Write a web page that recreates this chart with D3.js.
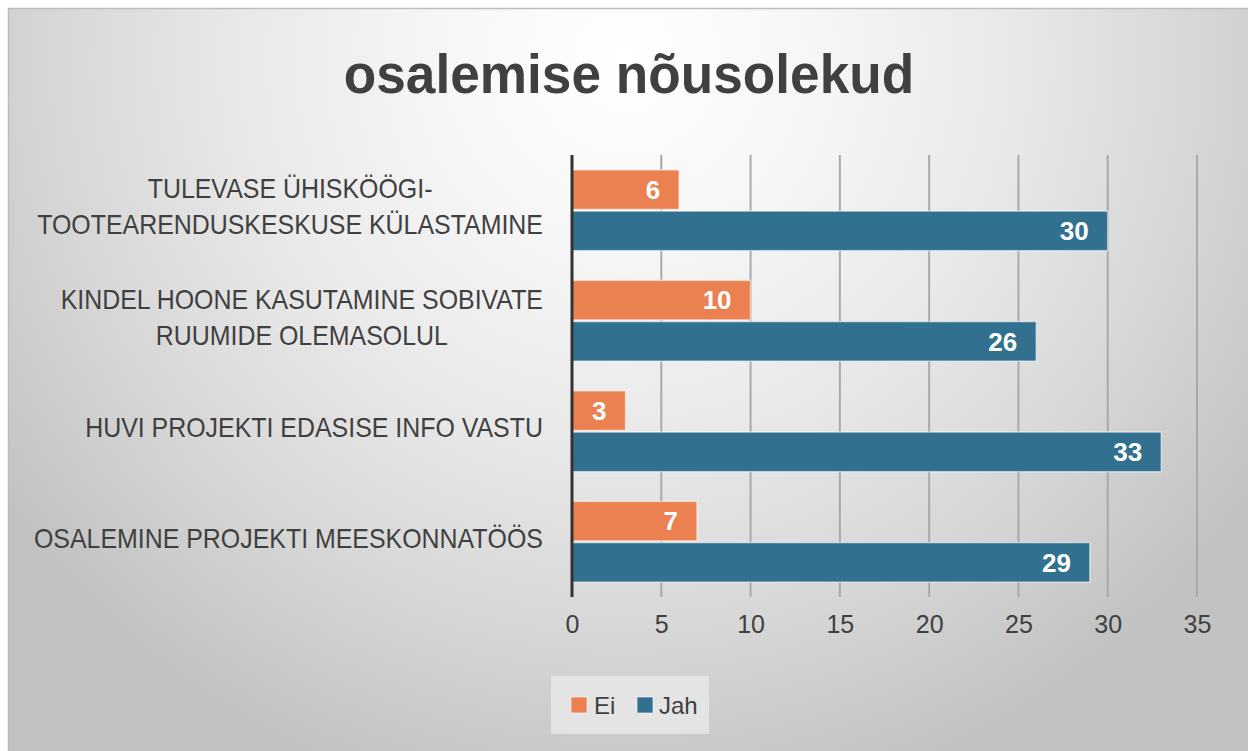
<!DOCTYPE html>
<html><head><meta charset="utf-8">
<script src="https://cdn.jsdelivr.net/npm/d3@7"></script>
<style>html,body{margin:0;padding:0;background:#fff;}svg{display:block;}</style>
</head><body>
<svg id="chart" width="1248" height="751"></svg>
<script>
const title = "osalemise nõusolekud";
const categories = [
  "TULEVASE ÜHISKÖÖGI-\nTOOTEARENDUSKESKUSE KÜLASTAMINE",
  "KINDEL HOONE KASUTAMINE SOBIVATE\nRUUMIDE OLEMASOLUL",
  "HUVI PROJEKTI EDASISE INFO VASTU",
  "OSALEMINE PROJEKTI MEESKONNATÖÖS"
];
const seriesNames = ["Ei", "Jah"];
const eiValues = [6, 10, 3, 7];
const jahValues = [30, 26, 33, 29];
const xTicks = [0, 5, 10, 15, 20, 25, 30, 35];
const colors = {"Ei": "#EB8150", "Jah": "#31718F"};

const W = 1248, H = 751;
const svg = d3.select("#chart");
const defs = svg.append("defs");
const grad = defs.append("radialGradient").attr("id", "bg")
  .attr("gradientUnits", "userSpaceOnUse")
  .attr("cx", 625).attr("cy", 60).attr("r", 760);
[[0, "#ffffff"], [0.25, "#f6f6f6"], [0.5, "#e9e9e9"], [0.75, "#d7d7d7"], [1, "#c2c2c2"]]
  .forEach(([o, c]) => grad.append("stop").attr("offset", o).attr("stop-color", c));

svg.append("rect").attr("x", 8.5).attr("y", 8.5).attr("width", W).attr("height", H)
  .attr("fill", "url(#bg)").attr("stroke", "#bdbdbd").attr("stroke-width", 1.5);

const x = d3.scaleLinear().domain([0, 35]).range([572, 1197]);
const y0 = d3.scaleBand().domain(categories).range([155, 597]).padding(0);
const y1 = d3.scaleBand().domain(seriesNames).range([0, y0.bandwidth()])
  .paddingInner(0.04).paddingOuter(0.36);

// title (condensed bold)
const tg = svg.append("g").attr("transform", "translate(629,93) scale(0.95,1)");
tg.append("text").attr("x", 0).attr("y", 0).attr("text-anchor", "middle")
  .attr("font-family", "'Liberation Sans',Arial,sans-serif")
  .attr("font-weight", "bold").attr("font-size", 56).attr("fill", "#404040")
  .text(title);

// gridlines
const grid = svg.append("g");
grid.selectAll("line").data(xTicks.filter(d => d > 0)).join("line")
  .attr("x1", d => x(d)).attr("x2", d => x(d))
  .attr("y1", 155).attr("y2", 597)
  .attr("stroke", "#a9a9a9").attr("stroke-width", 2);

// x axis labels
const xAxis = d3.axisBottom(x).tickValues(xTicks).tickSize(0).tickPadding(0);
const gx = svg.append("g").attr("transform", "translate(0,614)").call(xAxis);
gx.select(".domain").remove();
gx.selectAll("text").attr("font-family", "'Liberation Sans',Arial,sans-serif")
  .attr("font-size", 25).attr("fill", "#404040").attr("dy", "0.75em");

// bars
const data = categories.map((c, i) => ({cat: c, vals: [{k: "Ei", v: eiValues[i]}, {k: "Jah", v: jahValues[i]}]}));
const groups = svg.append("g").selectAll("g").data(data).join("g")
  .attr("transform", d => `translate(0,${y0(d.cat)})`);
groups.selectAll("rect").data(d => d.vals).join("rect")
  .attr("x", x(0)).attr("y", d => y1(d.k))
  .attr("width", d => x(d.v) - x(0)).attr("height", y1.bandwidth())
  .attr("fill", d => colors[d.k])
  .attr("stroke", "rgba(255,255,255,0.55)").attr("stroke-width", 1.5);
groups.selectAll("text").data(d => d.vals).join("text")
  .attr("x", d => x(d.v) - 19).attr("y", d => y1(d.k) + y1.bandwidth() / 2)
  .attr("dy", "0.36em").attr("text-anchor", "end")
  .attr("font-family", "'Liberation Sans',Arial,sans-serif").attr("font-weight", "bold")
  .attr("font-size", 26).attr("fill", "#ffffff").text(d => d.v);

// y axis line
svg.append("line").attr("x1", x(0)).attr("x2", x(0)).attr("y1", 155).attr("y2", 597)
  .attr("stroke", "#333333").attr("stroke-width", 3);

// category labels (condensed)
const labelRight = 543;
const squeeze = 0.89;
categories.forEach(c => {
  const lines = c.split("\n");
  const g = svg.append("g");
  const lh = 36;
  const cy = y0(c) + y0.bandwidth() / 2 - 4;
  const texts = lines.map((ln, i) => g.append("text")
    .attr("x", 0)
    .attr("y", cy + (i - (lines.length - 1) / 2) * lh).attr("dy", "0.36em")
    .attr("text-anchor", "middle")
    .attr("font-family", "'Liberation Sans',Arial,sans-serif")
    .attr("font-size", 28).attr("fill", "#404040").text(ln));
  const maxW = d3.max(texts, t => t.node().getComputedTextLength());
  g.attr("transform", `translate(${labelRight - maxW * squeeze / 2},0) scale(${squeeze},1)`);
});

// legend
const lg = svg.append("g");
lg.append("rect").attr("x", 551).attr("y", 676).attr("width", 158).attr("height", 58)
  .attr("fill", "#e8e8e8").attr("opacity", 0.85);
const items = [{k: "Ei", sx: 571, tx: 594}, {k: "Jah", sx: 637, tx: 659}];
items.forEach(it => {
  lg.append("rect").attr("x", it.sx).attr("y", 697).attr("width", 16).attr("height", 16)
    .attr("fill", colors[it.k]).attr("stroke", "rgba(255,255,255,0.6)").attr("stroke-width", 1);
  lg.append("text").attr("x", it.tx).attr("y", 705).attr("dy", "0.36em")
    .attr("font-family", "'Liberation Sans',Arial,sans-serif").attr("font-size", 24)
    .attr("fill", "#404040").text(it.k);
});
</script>
</body></html>
